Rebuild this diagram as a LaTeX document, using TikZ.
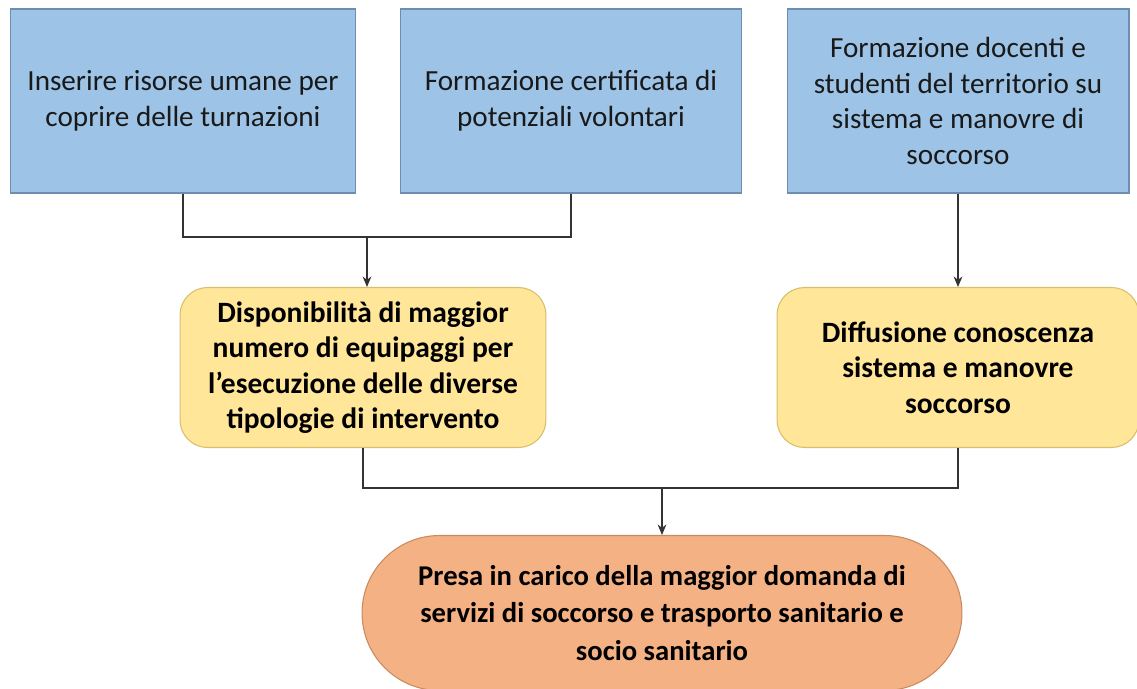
\documentclass[tikz,border=0pt]{standalone}
\usepackage{fontspec}
\setmainfont{Carlito}
\usetikzlibrary{arrows.meta,shapes.misc}
\definecolor{bluefill}{HTML}{9DC3E6}
\definecolor{blueline}{HTML}{6D8FAF}
\definecolor{yelfill}{HTML}{FFE699}
\definecolor{yelline}{HTML}{D9BE6A}
\definecolor{orfill}{HTML}{F4B183}
\definecolor{orline}{HTML}{C98A5F}
\definecolor{conn}{HTML}{333333}
\tikzset{
  topbox/.style={draw=blueline, fill=bluefill, line width=0.6pt, minimum width=6.92cm, minimum height=3.68cm, align=center, inner sep=0pt, font=\fontsize{16.6}{20.4}\selectfont, text=black!90},
  midbox/.style={draw=yelline, fill=yelfill, line width=0.6pt, rounded corners=0.55cm, minimum height=3.2cm, align=center, inner sep=0pt, font=\bfseries\fontsize{16.8}{20.2}\selectfont},
  endbox/.style={draw=orline, fill=orfill, line width=0.6pt, rounded rectangle, minimum width=12cm, minimum height=3.1cm, align=center, inner sep=0pt, font=\bfseries\fontsize{16.3}{21.3}\selectfont},
  link/.style={draw=conn, line width=0.7pt},
  arr/.style={link, -{Stealth[length=6pt,width=5pt]}}
}
\begin{document}
\begin{tikzpicture}[x=0.02cm,y=-0.02cm]
\useasboundingbox (0,0) rectangle (1137,689);
\node[topbox] (b1) at (183,101) {Inserire risorse umane per\\coprire delle turnazioni};
\node[topbox, minimum width=6.84cm] (b2) at (571,101) {Formazione certificata di\\potenziali volontari};
\node[topbox, minimum width=6.84cm] (b3) at (958,101) {Formazione docenti e\\studenti del territorio su\\sistema e manovre di\\soccorso};
\node[midbox, minimum width=7.32cm] (a) at (363,367.5) {Disponibilità di maggior\\numero di equipaggi per\\l’esecuzione delle diverse\\tipologie di intervento};
\node[midbox, minimum width=7.24cm] (b) at (958,367.5) {Diffusione conoscenza\\sistema e manovre\\soccorso};
\node[endbox] (c) at (662,613) {Presa in carico della maggior domanda di\\servizi di soccorso e trasporto sanitario e\\socio sanitario};
\coordinate (j1) at (367,237);
\coordinate (j2) at (662,488);
\draw[link] (b1.south) |- (j1) -| (b2.south);
\draw[arr] (j1) -- (j1 |- a.north);
\draw[arr] (b3.south) -- (b.north);
\draw[link] (a.south) |- (j2) -| (b.south);
\draw[arr] (j2) -- (c.north);
\end{tikzpicture}
\end{document}
